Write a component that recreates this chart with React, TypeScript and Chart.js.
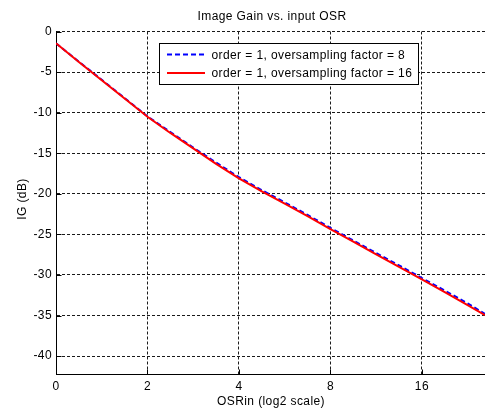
import React, { useEffect, useRef } from 'react';
import { Chart, registerables } from 'chart.js';

Chart.register(...registerables);

const TITLE = 'Image Gain vs. input OSR';
const X_LABEL = 'OSRin (log2 scale)';
const Y_LABEL = 'IG (dB)';

// x positions on the log2 axis (0 .. ~4.7)
const X_POSITIONS = [0, 0.25, 0.5, 0.75, 1, 1.25, 1.5, 1.75, 2, 2.25, 2.5, 2.75, 3, 3.25, 3.5, 3.75, 4, 4.25, 4.5, 4.69];
const X_TICK_POSITIONS = [0, 1, 2, 3, 4];
const X_TICK_LABELS = ['0', '2', '4', '8', '16'];
const Y_TICKS = [0, -5, -10, -15, -20, -25, -30, -35, -40];

const SERIES_LABELS = ['order = 1, oversampling factor = 8', 'order = 1, oversampling factor = 16'];
const IG_OSF8 = [-1.45, -3.72, -5.95, -8.2, -10.45, -12.4, -14.3, -16.15, -17.95, -19.55, -21.05, -22.6, -24.2, -25.75, -27.3, -28.82, -30.38, -31.92, -33.5, -34.8];
const IG_OSF16 = [-1.45, -3.75, -6.0, -8.25, -10.5, -12.5, -14.4, -16.3, -18.1, -19.7, -21.2, -22.75, -24.35, -25.9, -27.45, -29.0, -30.55, -32.1, -33.7, -34.95];

const X_MIN = 0;
const X_MAX = 4.69;
const Y_MIN = -42.2;
const Y_MAX = 0;

const FONT_FAMILY = '"Liberation Sans", Arial, Helvetica, sans-serif';
const FONT = `12px ${FONT_FAMILY}`;

const matlabPlugin = {
  id: 'matlabDecor',
  beforeDraw(chart: any) {
    const ctx = chart.ctx;
    ctx.save();
    ctx.fillStyle = '#ffffff';
    ctx.fillRect(0, 0, chart.width, chart.height);
    ctx.restore();
    (ctx as any).letterSpacing = '0.4px';
  },
  afterDraw(chart: any) {
    const ctx = chart.ctx as CanvasRenderingContext2D;
    const { left, right, top, bottom } = chart.chartArea;
    const xs = chart.scales.x;
    const ys = chart.scales.y;
    ctx.save();
    (ctx as any).letterSpacing = '0.4px';

    // inner tick marks
    ctx.strokeStyle = '#000';
    ctx.lineWidth = 1;
    ctx.setLineDash([]);
    ctx.beginPath();
    X_TICK_POSITIONS.forEach((v) => {
      const px = Math.round(xs.getPixelForValue(v)) + 0.5;
      ctx.moveTo(px, Math.round(bottom) + 0.5);
      ctx.lineTo(px, Math.round(bottom) - 4.5);
    });
    Y_TICKS.forEach((v) => {
      const py = Math.round(ys.getPixelForValue(v)) + 0.5;
      ctx.moveTo(Math.round(left) + 0.5, py);
      ctx.lineTo(Math.round(left) + 5.5, py);
    });
    ctx.stroke();

    // titles
    ctx.fillStyle = '#000';
    ctx.font = FONT;
    ctx.textAlign = 'center';
    ctx.textBaseline = 'middle';
    const cx = (left + right) / 2;
    ctx.fillText(TITLE, 272, 16.5);
    ctx.fillText(X_LABEL, 271, 402);
    ctx.save();
    ctx.translate(23, 199);
    ctx.rotate(-Math.PI / 2);
    ctx.fillText(Y_LABEL, 0, 0);
    ctx.restore();

    // legend
    const lx = 159.5, ly = 43.5, lw = 259, lh = 41;
    ctx.fillStyle = '#fff';
    ctx.fillRect(lx, ly, lw, lh);
    ctx.strokeStyle = '#000';
    ctx.lineWidth = 1;
    ctx.strokeRect(lx, ly, lw, lh);
    const rows = [54.5, 73];
    chart.data.datasets.forEach((ds: any, i: number) => {
      const y = rows[i];
      ctx.save();
      ctx.strokeStyle = ds.borderColor;
      ctx.lineWidth = ds.borderWidth;
      ctx.setLineDash(ds.borderDash || []);
      ctx.beginPath();
      ctx.moveTo(167, y);
      ctx.lineTo(205, y);
      ctx.stroke();
      ctx.restore();
      ctx.fillStyle = '#000';
      ctx.font = FONT;
      ctx.textAlign = 'left';
      ctx.textBaseline = 'middle';
      ctx.fillText(ds.label, 211.5, y + 0.8);
    });
    ctx.restore();
  },
};

export default function App() {
  const canvasRef = useRef<HTMLCanvasElement | null>(null);

  useEffect(() => {
    const canvas = canvasRef.current;
    if (!canvas) return;
    const chart = new Chart(canvas, {
      type: 'line',
      data: {
        datasets: [
          {
            label: SERIES_LABELS[0],
            data: X_POSITIONS.map((x, i) => ({ x, y: IG_OSF8[i] })),
            borderColor: '#0000ff',
            borderWidth: 2,
            borderDash: [5, 3],
            pointRadius: 0,
            fill: false,
            order: 1,
          },
          {
            label: SERIES_LABELS[1],
            data: X_POSITIONS.map((x, i) => ({ x, y: IG_OSF16[i] })),
            borderColor: '#ff0000',
            borderWidth: 2,
            pointRadius: 0,
            fill: false,
            order: 0,
          },
        ],
      },
      options: {
        animation: false,
        responsive: false,
        events: [],
        layout: { padding: { top: 31.5, left: 0, right: 0, bottom: 0 } },
        plugins: {
          legend: { display: false },
          title: { display: false },
          tooltip: { enabled: false },
        },
        elements: { line: { tension: 0 } },
        scales: {
          x: {
            type: 'linear',
            min: X_MIN,
            max: X_MAX,
            afterBuildTicks: (axis: any) => {
              axis.ticks = X_TICK_POSITIONS.map((v) => ({ value: v }));
            },
            afterFit: (axis: any) => {
              axis.height = 38;
            },
            ticks: {
              autoSkip: false,
              maxRotation: 0,
              padding: 5,
              color: '#000',
              font: { family: FONT_FAMILY, size: 12 },
              callback: (v: any) => {
                const idx = X_TICK_POSITIONS.indexOf(Number(v));
                return idx >= 0 ? X_TICK_LABELS[idx] : '';
              },
            },
            grid: { color: '#1a1a1a', lineWidth: 1, drawTicks: false },
            border: { display: true, color: '#000', width: 1, dash: [3, 2] },
          },
          y: {
            type: 'linear',
            min: Y_MIN,
            max: Y_MAX,
            afterBuildTicks: (axis: any) => {
              axis.ticks = Y_TICKS.map((v) => ({ value: v }));
            },
            afterFit: (axis: any) => {
              axis.width = 56;
            },
            ticks: {
              autoSkip: false,
              padding: 4,
              color: '#000',
              font: { family: FONT_FAMILY, size: 12 },
              callback: (v: any) => String(v),
            },
            grid: { color: '#1a1a1a', lineWidth: 1, drawTicks: false },
            border: { display: true, color: '#000', width: 1, dash: [3, 2] },
          },
        },
      } as any,
      plugins: [matlabPlugin],
    });
    return () => chart.destroy();
  }, []);

  return (
    <div style={{ position: 'absolute', left: 0, top: 0, width: 485, height: 412, background: '#fff' }}>
      <canvas ref={canvasRef} width={485} height={412} style={{ display: 'block' }} />
    </div>
  );
}
